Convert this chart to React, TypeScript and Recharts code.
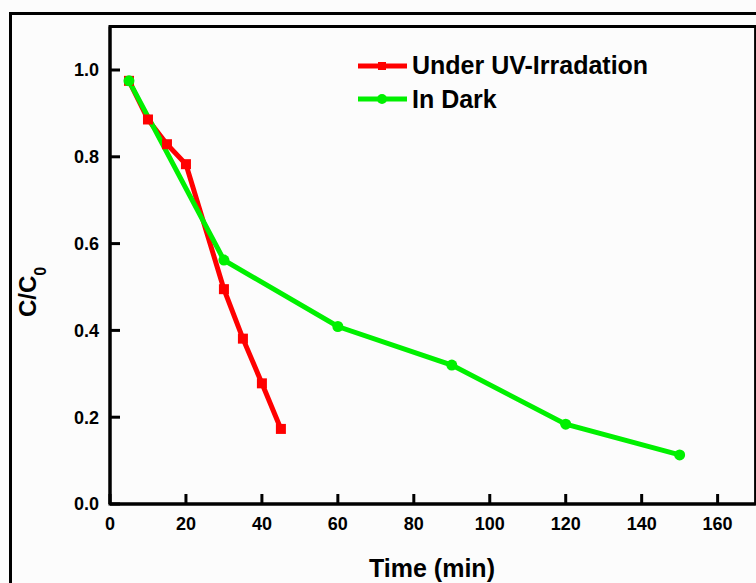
import React from 'react';
import { LineChart, Line, XAxis, YAxis, ReferenceArea } from 'recharts';

// Under UV-Irradation (red squares)
const uvTime = [5, 10, 15, 20, 30, 35, 40, 45];
const uvRatio = [0.975, 0.886, 0.829, 0.783, 0.495, 0.381, 0.278, 0.173];

// In Dark (green circles)
const darkTime = [5, 30, 60, 90, 120, 150];
const darkRatio = [0.975, 0.562, 0.409, 0.32, 0.184, 0.113];

const xTicks = [0, 20, 40, 60, 80, 100, 120, 140, 160];
const yTicks = [0, 0.2, 0.4, 0.6, 0.8, 1.0];

const UV_LABEL = 'Under UV-Irradation';
const DARK_LABEL = 'In Dark';

const RED = '#ff0000';
const GREEN = '#00f000';
const FONT = '"Liberation Sans", Arial, sans-serif';

const uvData = uvTime.map((t, i) => ({ t, v: uvRatio[i] }));
const darkData = darkTime.map((t, i) => ({ t, v: darkRatio[i] }));

const XTick = (props: any) => {
  const { x, y, payload } = props;
  const ay = y - 12; // axis line position
  return (
    <g>
      <line x1={x} x2={x} y1={ay} y2={ay - 10} stroke="#000" strokeWidth={3} />
      <text x={x} y={ay + 26} textAnchor="middle" fontSize={18} fontWeight="bold" fontFamily={FONT} fill="#000">
        {payload.value}
      </text>
    </g>
  );
};

const YTick = (props: any) => {
  const { x, y, payload } = props;
  const ax = x + 11;
  return (
    <g>
      <line x1={ax} x2={ax + 10} y1={y} y2={y} stroke="#000" strokeWidth={3} />
      <text x={x} y={y} dy="0.36em" textAnchor="end" fontSize={18} fontWeight="bold" fontFamily={FONT} fill="#000">
        {Number(payload.value).toFixed(1)}
      </text>
    </g>
  );
};

const SquareDot = (props: any) => {
  const { cx, cy } = props;
  if (cx == null || cy == null) return null;
  return <rect x={cx - 5} y={cy - 5} width={10} height={10} fill={RED} />;
};

const CircleDot = (props: any) => {
  const { cx, cy } = props;
  if (cx == null || cy == null) return null;
  return <circle cx={cx} cy={cy} r={5.5} fill={GREEN} />;
};

const YLabel = () => (
  <text
    x={36}
    y={317}
    transform="rotate(-90 36 317)"
    fontSize={24}
    fontWeight="bold"
    fontFamily={FONT}
    fill="#000"
  >
    C/C
    <tspan fontSize={16} dy={10}>0</tspan>
  </text>
);

const LegendBox = () => {
  const rows = [
    { label: UV_LABEL, color: RED, square: true },
    { label: DARK_LABEL, color: GREEN, square: false },
  ];
  return (
    <div style={{ position: 'absolute', left: 356, top: 49 }}>
      {rows.map((r) => (
        <div key={r.label} style={{ display: 'flex', alignItems: 'center', height: 33.5 }}>
          <svg width={56} height={16} style={{ display: 'block' }}>
            <line x1={2} x2={51} y1={8} y2={8} stroke={r.color} strokeWidth={5} />
            {r.square ? (
              <rect x={22} y={4} width={8} height={8} fill={r.color} />
            ) : (
              <circle cx={26} cy={8} r={5} fill={r.color} />
            )}
          </svg>
          <span style={{ fontFamily: FONT, fontWeight: 'bold', fontSize: 25, lineHeight: '33px', color: '#000', whiteSpace: 'nowrap' }}>
            {r.label}
          </span>
        </div>
      ))}
    </div>
  );
};

export default function App() {
  return (
    <div style={{ position: 'absolute', left: 0, top: 0, width: 756, height: 583, overflow: 'hidden', background: '#fcfcfc' }}>
      <div
        style={{
          position: 'absolute',
          left: 9,
          top: 12,
          width: 900,
          height: 800,
          border: '3px solid #000',
        }}
      />
      <div style={{ position: 'absolute', left: 0, top: 0 }}>
        <LineChart
          width={760}
          height={583}
          margin={{ top: 26.6, right: 4.4, left: 50, bottom: 49 }}
        >
          <XAxis
            dataKey="t"
            type="number"
            domain={[0, 170]}
            ticks={xTicks}
            height={30}
            tickSize={0}
            tickMargin={12}
            tickLine={false}
            axisLine={{ stroke: '#000', strokeWidth: 3 }}
            tick={<XTick />}
            allowDataOverflow
          />
          <YAxis
            type="number"
            domain={[0, 1.1]}
            ticks={yTicks}
            width={60}
            tickSize={0}
            tickMargin={11}
            tickLine={false}
            axisLine={{ stroke: '#000', strokeWidth: 3 }}
            tick={<YTick />}
            allowDataOverflow
          />
          <ReferenceArea
            x1={0}
            x2={170}
            y1={0}
            y2={1.1}
            fill="none"
            fillOpacity={0}
            stroke="#000"
            strokeWidth={3}
            ifOverflow="visible"
          />
          <Line
            data={uvData}
            dataKey="v"
            name={UV_LABEL}
            type="linear"
            stroke={RED}
            strokeWidth={5}
            dot={<SquareDot />}
            activeDot={false}
            isAnimationActive={false}
          />
          <Line
            data={darkData}
            dataKey="v"
            name={DARK_LABEL}
            type="linear"
            stroke={GREEN}
            strokeWidth={5}
            dot={<CircleDot />}
            activeDot={false}
            isAnimationActive={false}
          />
          <text x={432} y={577} textAnchor="middle" fontSize={25} fontWeight="bold" fontFamily={FONT} fill="#000">
            Time (min)
          </text>
          <YLabel />
        </LineChart>
      </div>
      <LegendBox />
    </div>
  );
}
